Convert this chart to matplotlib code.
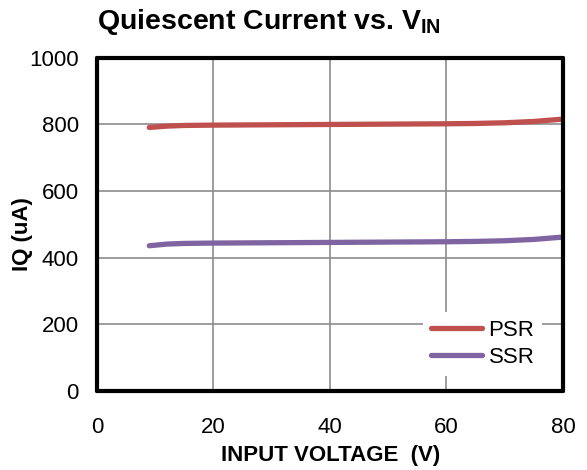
import matplotlib.pyplot as plt

plt.rcParams['font.family'] = ['Liberation Sans', 'DejaVu Sans']
plt.rcParams['mathtext.fontset'] = 'custom'
plt.rcParams['mathtext.rm'] = 'Liberation Sans'
plt.rcParams['mathtext.bf'] = 'Liberation Sans:bold'

# data
vin = [9, 12, 15, 20, 30, 40, 50, 60, 65, 70, 75, 80]
psr_iq = [791, 795, 797, 798, 799, 800, 801, 802, 803, 805, 809, 816]
ssr_iq = [436, 441, 443, 444, 445, 446, 447, 448, 449, 451, 455, 462]

fig = plt.figure(figsize=(5.87, 4.70), dpi=100)
ax = fig.add_axes([0.165, 0.168, 0.794, 0.709])

ax.plot(vin, psr_iq, color='#C0504D', lw=3.8, solid_capstyle='round', label='PSR')
ax.plot(vin, ssr_iq, color='#8064A2', lw=3.8, solid_capstyle='round', label='SSR')

ax.set_xlim(0, 80)
ax.set_ylim(0, 1000)
ax.set_xticks([0, 20, 40, 60, 80])
ax.set_yticks([0, 200, 400, 600, 800, 1000])
ax.grid(True, color='#8c8c8c', lw=1.2)
ax.set_axisbelow(True)
for s in ax.spines.values():
    s.set_linewidth(3)
    s.set_color('black')
    s.set_capstyle('round')
ax.tick_params(length=0, labelsize=16)
ax.tick_params(axis='x', pad=19)
ax.tick_params(axis='y', pad=13)

ax.set_xlabel('INPUT VOLTAGE  (V)', fontsize=16, fontweight='bold', va='top')
ax.xaxis.set_label_coords(0.501, -0.162)
ax.set_ylabel('IQ (uA)', fontsize=16, fontweight='bold')
ax.yaxis.set_label_coords(-0.137, 0.47)
fig.text(0.165, 0.938, r'Quiescent Current vs. V$_{\mathbf{IN}}$', fontsize=20.5,
         fontweight='bold', ha='left', va='baseline')

leg = ax.legend(loc='upper left', bbox_to_anchor=(0.6996, 0.238), frameon=True,
                fontsize=16, handlelength=2.3, handletextpad=0.3,
                borderpad=0.35, labelspacing=0.3, borderaxespad=0)
leg.get_frame().set_edgecolor('none')
leg.get_frame().set_facecolor('white')
leg.get_frame().set_alpha(1)
leg.get_frame().set_boxstyle('square', pad=0)

fig.savefig('out.png', dpi=100)
